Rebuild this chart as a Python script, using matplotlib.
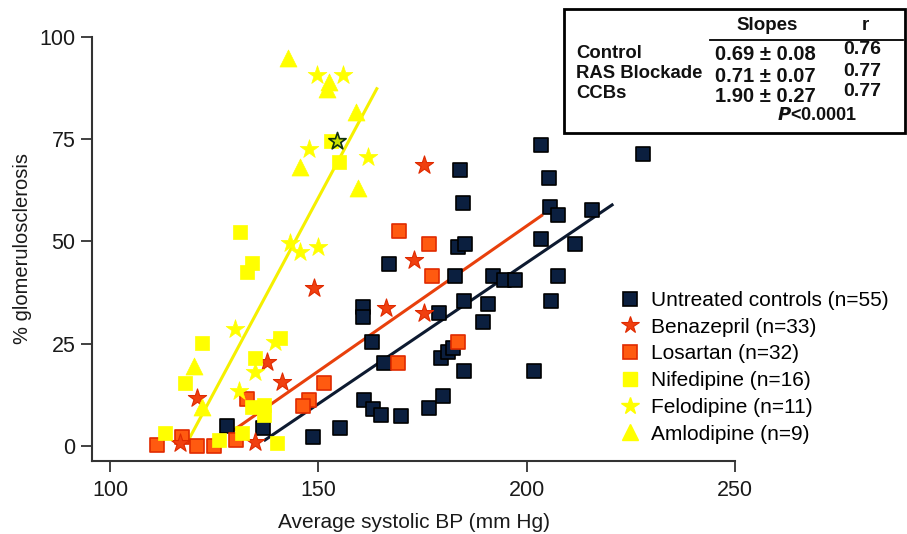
import matplotlib
matplotlib.use("Agg")
import matplotlib.pyplot as plt
from matplotlib.patches import Rectangle
from matplotlib.lines import Line2D

plt.rcParams['font.family'] = ['Liberation Sans', 'DejaVu Sans']

# ---------------- data ----------------
ctrl_x = [227.8, 203.5, 184.1, 205.4, 184.8, 205.5, 207.6, 215.7, 183.6, 185.2,
          203.5, 211.6, 166.9, 182.7, 192.0, 194.6, 197.3, 207.6, 184.9, 205.8,
          190.7, 189.4, 160.6, 160.6, 178.9, 162.8, 165.8, 179.5, 181.1, 182.3,
          184.9, 201.8, 160.9, 163.1, 165.1, 169.8, 176.6, 179.9, 155.2, 148.8,
          128.1, 136.8]
ctrl_y = [71.4, 73.7, 67.5, 65.5, 59.4, 58.5, 56.5, 57.6, 48.7, 49.4,
          50.5, 49.3, 44.5, 41.6, 41.6, 40.6, 40.5, 41.6, 35.5, 35.5,
          34.6, 30.4, 34.0, 31.5, 32.4, 25.5, 20.4, 21.4, 23.0, 23.9,
          18.4, 18.4, 11.2, 9.0, 7.5, 7.3, 9.4, 12.2, 4.3, 2.3,
          5.0, 4.3]

bena_x = [175.3, 173.0, 149.0, 166.2, 175.4, 137.7, 141.3, 120.9, 116.9, 134.9]
bena_y = [68.6, 45.5, 38.6, 33.7, 32.6, 20.6, 15.7, 11.7, 0.8, 1.0]

losa_x = [169.4, 176.6, 177.3, 183.5, 169.0, 151.4, 147.7, 146.2, 132.9, 117.3,
          111.3, 120.9, 124.9, 130.2]
losa_y = [52.6, 49.5, 41.6, 25.5, 20.4, 15.5, 11.2, 9.8, 11.4, 2.2,
          0.2, 0.1, 0.1, 1.5]

nife_x = [131.1, 134.1, 132.9, 122.1, 140.9, 134.9, 117.9, 113.2, 126.1, 131.7,
          134.1, 136.9, 136.9, 140.0, 153.0, 155.0]
nife_y = [52.4, 44.7, 42.6, 25.3, 26.3, 21.4, 15.5, 3.1, 1.5, 3.1,
          9.6, 10.0, 7.6, 0.8, 74.6, 69.5]

felo_x = [149.6, 155.9, 147.7, 161.8, 143.3, 145.7, 149.8, 129.9, 139.7, 134.9, 130.9]
felo_y = [90.7, 90.7, 72.5, 70.7, 49.7, 47.5, 48.6, 28.5, 25.5, 18.2, 13.4]

felo_hl_x = [154.4]
felo_hl_y = [74.6]

amlo_x = [142.7, 152.6, 152.0, 159.0, 145.6, 159.5, 120.1, 122.1]
amlo_y = [94.8, 89.1, 87.4, 81.7, 68.1, 63.0, 19.6, 9.6]

# regression lines: control, RAS blockade, CCBs
fit_slope = [0.69, 0.71, 1.90]
fit_intercept = [-93.2, -88.2, -224.3]
fit_x0 = [136.9, 129.7, 118.9]
fit_x1 = [220.8, 203.9, 164.2]

labels = ["Untreated controls (n=55)", "Benazepril (n=33)", "Losartan (n=32)",
          "Nifedipine (n=16)", "Felodipine (n=11)", "Amlodipine (n=9)"]

tab_rows = ["Control", "RAS Blockade", "CCBs"]
tab_slopes = ["0.69 \u00b1 0.08", "0.71 \u00b1 0.07", "1.90 \u00b1 0.27"]
tab_r = ["0.76", "0.77", "0.77"]

# ---------------- figure ----------------
W, H = 907, 534
fig = plt.figure(figsize=(W / 100, H / 100), dpi=100)

def fx(px):
    return px / W

def fy(py):
    return 1 - py / H

ax_l, ax_r, ax_t, ax_b = 92, 735, 37, 461
ax = fig.add_axes([fx(ax_l), fy(ax_b), (ax_r - ax_l) / W, (ax_b - ax_t) / H])
ax.set_xlim(95.67, 250)
ax.set_ylim(-3.67, 100)

navy = "#0b1f3f"
yellow = "#ffff00"
orange = "#ff5a10"
red_edge = "#e02a00"

line_cols = ["#0d1a30", "#e8400c", "#f5f000"]
for s, b, x0, x1, c in zip(fit_slope, fit_intercept, fit_x0, fit_x1, line_cols):
    ax.plot([x0, x1], [s * x0 + b, s * x1 + b], color=c, lw=2.2, zorder=2,
            solid_capstyle='butt')

ax.scatter(ctrl_x, ctrl_y, marker='s', s=110, c=navy, edgecolors='black',
           linewidths=1.2, zorder=3, clip_on=False)
ax.scatter(losa_x, losa_y, marker='s', s=100, c=orange, edgecolors=red_edge,
           linewidths=1.2, zorder=3, clip_on=False)
ax.scatter(bena_x, bena_y, marker='*', s=190, c="#f04010", edgecolors=red_edge,
           linewidths=0.8, zorder=3, clip_on=False)
ax.scatter(nife_x, nife_y, marker='s', s=110, c=yellow, edgecolors=yellow,
           linewidths=0.5, zorder=3, clip_on=False)
ax.scatter(felo_x, felo_y, marker='*', s=200, c=yellow, edgecolors=yellow,
           linewidths=0.5, zorder=3, clip_on=False)
ax.scatter(felo_hl_x, felo_hl_y, marker='*', s=170, c="#c8e000", edgecolors="#103010",
           linewidths=1.2, zorder=4, clip_on=False)
ax.scatter(amlo_x, amlo_y, marker='^', s=150, c=yellow, edgecolors=yellow,
           linewidths=0.5, zorder=3, clip_on=False)

# spines / ticks
for side in ['top', 'right']:
    ax.spines[side].set_visible(False)
for side in ['left', 'bottom']:
    ax.spines[side].set_linewidth(1.5)
    ax.spines[side].set_color('#333333')
ax.spines['left'].set_bounds(-3.67, 100)
ax.spines['bottom'].set_bounds(95.67, 250)
ax.set_xticks([100, 150, 200, 250])
ax.set_yticks([0, 25, 50, 75, 100])
ax.tick_params(axis='both', direction='out', length=8, width=1.3, color='#333333',
               labelsize=15.5, labelcolor='#1a1a1a')
ax.tick_params(axis='x', pad=6)
ax.tick_params(axis='y', pad=4)
ax.set_xlabel("Average systolic BP (mm Hg)", fontsize=15, color='#1a1a1a', labelpad=8)
ax.set_ylabel("% glomerulosclerosis", fontsize=14.5, color='#1a1a1a', labelpad=5)
ax.patch.set_visible(False)

# legend
handles = [
    Line2D([], [], ls='none', marker='s', ms=10, mfc=navy, mec='black', mew=1.2),
    Line2D([], [], ls='none', marker='*', ms=13, mfc="#f04010", mec=red_edge, mew=0.8),
    Line2D([], [], ls='none', marker='s', ms=10, mfc=orange, mec=red_edge, mew=1.2),
    Line2D([], [], ls='none', marker='s', ms=10, mfc=yellow, mec=yellow),
    Line2D([], [], ls='none', marker='*', ms=13, mfc=yellow, mec=yellow),
    Line2D([], [], ls='none', marker='^', ms=11, mfc=yellow, mec=yellow),
]
fig.legend(handles, labels, loc='upper left', bbox_to_anchor=(fx(621), fy(291)),
           frameon=False, fontsize=15, handlelength=0.9, handletextpad=0.55,
           labelspacing=0.37, borderpad=0, borderaxespad=0)

# table box
fig.patches.append(Rectangle((fx(564), fy(133)), (905 - 564) / W, (133 - 9) / H,
                             transform=fig.transFigure, fill=False, ec='black', lw=2))
fig.add_artist(Line2D([fx(710), fx(903)], [fy(39.5), fy(39.5)], transform=fig.transFigure,
                      color='black', lw=1.3))
tk = dict(fontweight='bold', color='#111111')
fig.text(fx(767), fy(25), "Slopes", ha='center', va='center', fontsize=13.5, **tk)
fig.text(fx(865), fy(25), "r", ha='center', va='center', fontsize=13.5, **tk)
row_y = [53, 74, 93]
val_y = [55, 76, 97]
r_y = [50, 71, 91]
for name, sl, rv, y1, y2, y3 in zip(tab_rows, tab_slopes, tab_r, row_y, val_y, r_y):
    fig.text(fx(576), fy(y1), name, ha='left', va='center', fontsize=13.3, **tk)
    fig.text(fx(765), fy(y2), sl, ha='center', va='center', fontsize=14.5, **tk)
    fig.text(fx(862), fy(y3), rv, ha='center', va='center', fontsize=14, **tk)
fig.text(fx(817), fy(115), r"$\mathbfit{P}$<0.0001", ha='center', va='center',
         fontsize=13, **tk)

fig.savefig("out.png", dpi=100)
